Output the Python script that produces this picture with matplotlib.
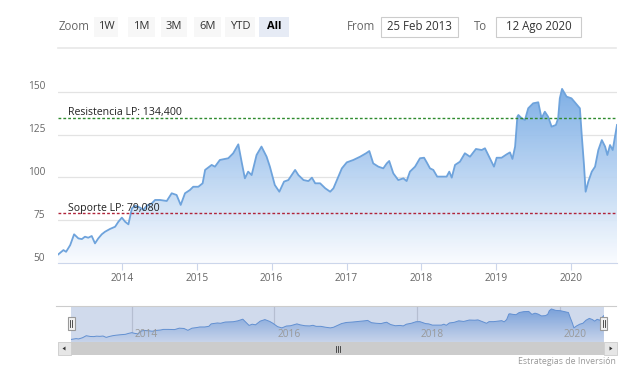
import numpy as np
import matplotlib
matplotlib.use("Agg")
import matplotlib.pyplot as plt
import matplotlib.dates as mdates
from matplotlib.patches import Rectangle, Polygon
from matplotlib.colors import LinearSegmentedColormap

W, H = 634, 372

# Price series (approximate)
dates = [
    "2013-02-25", "2013-03-22", "2013-04-04", "2013-04-24", "2013-05-13",
    "2013-06-03", "2013-06-20", "2013-07-05", "2013-07-21", "2013-08-07",
    "2013-08-23", "2013-09-08", "2013-09-25", "2013-10-11", "2013-11-04",
    "2013-11-29", "2013-12-15", "2014-01-01", "2014-01-17", "2014-02-02",
    "2014-02-19", "2014-03-07", "2014-03-31", "2014-04-16", "2014-05-03",
    "2014-05-27", "2014-06-12", "2014-07-06", "2014-08-08", "2014-09-01",
    "2014-09-25", "2014-10-15", "2014-11-05", "2014-11-29", "2014-12-15",
    "2015-01-09", "2015-01-30", "2015-02-11", "2015-03-15", "2015-03-31",
    "2015-04-24", "2015-06-04", "2015-06-28", "2015-07-23", "2015-08-08",
    "2015-08-24", "2015-09-09", "2015-09-26", "2015-10-20", "2015-11-13",
    "2015-12-08", "2015-12-24", "2016-01-17", "2016-02-08", "2016-03-02",
    "2016-03-23", "2016-04-25", "2016-05-11", "2016-06-05", "2016-06-29",
    "2016-07-16", "2016-08-01", "2016-08-25", "2016-09-19", "2016-10-13",
    "2016-10-29", "2016-11-15", "2016-12-09", "2017-01-02", "2017-02-03",
    "2017-03-08", "2017-04-06", "2017-04-22", "2017-05-11", "2017-06-05",
    "2017-06-29", "2017-07-16", "2017-07-28", "2017-08-17", "2017-09-10",
    "2017-10-05", "2017-10-21", "2017-11-06", "2017-12-01", "2017-12-25",
    "2018-01-14", "2018-01-27", "2018-02-12", "2018-02-28", "2018-03-19",
    "2018-04-10", "2018-05-04", "2018-05-17", "2018-05-29", "2018-06-14",
    "2018-07-08", "2018-08-01", "2018-08-26", "2018-09-24", "2018-10-22",
    "2018-11-07", "2018-12-01", "2018-12-21", "2019-01-03", "2019-01-27",
    "2019-02-21", "2019-03-09", "2019-03-21", "2019-04-03", "2019-04-14",
    "2019-04-19", "2019-05-05", "2019-05-21", "2019-06-06", "2019-06-30",
    "2019-07-25", "2019-08-10", "2019-08-26", "2019-09-11", "2019-09-28",
    "2019-10-19", "2019-10-30", "2019-11-07", "2019-11-18", "2019-12-10",
    "2020-01-03", "2020-01-28", "2020-02-13", "2020-02-22", "2020-03-04",
    "2020-03-12", "2020-03-25", "2020-04-11", "2020-04-27", "2020-05-13",
    "2020-05-30", "2020-06-15", "2020-06-26", "2020-07-09", "2020-07-22",
    "2020-08-12",
]
prices = [
    55.2, 57.7, 56.7, 60.6, 66.9,
    64.5, 64.1, 65.5, 64.9, 65.9,
    61.6, 64.5, 66.9, 68.4, 70.0,
    71.3, 74.2, 76.6, 74.2, 72.7,
    82.0, 83.6, 82.4, 81.1, 83.6,
    84.9, 86.9, 86.9, 86.3, 90.8,
    89.8, 84.0, 90.8, 92.7, 94.6,
    94.6, 96.6, 104.4, 107.3, 106.3,
    110.2, 111.2, 114.1, 119.3, 109.2,
    99.5, 103.4, 101.4, 113.1, 118.0,
    112.1, 106.3, 95.6, 91.7, 97.6,
    98.5, 104.4, 101.4, 98.5, 97.9,
    99.9, 96.6, 96.6, 93.7, 91.7,
    93.7, 98.5, 105.3, 108.8, 110.2,
    112.1, 114.1, 115.4, 108.2, 106.3,
    105.3, 108.2, 109.6, 102.4, 98.5,
    99.5, 97.9, 103.4, 106.3, 111.2,
    111.5, 108.8, 105.3, 104.4, 100.5,
    100.5, 100.5, 103.4, 99.9, 107.3,
    109.2, 114.1, 112.1, 116.6, 116.0,
    117.0, 111.2, 106.3, 111.5, 111.5,
    113.5, 114.6, 110.8, 118.0, 135.4,
    136.4, 134.5, 133.5, 140.3, 143.2,
    143.8, 134.5, 138.3, 135.4, 129.6,
    130.6, 134.5, 146.1, 151.6, 147.1,
    146.1, 142.6, 140.3, 124.7, 107.3,
    91.7, 97.6, 103.4, 106.3, 116.0,
    121.8, 118.0, 113.1, 118.9, 116.0,
    130.6,
]

resistance = 134.4
support = 79.08
resistance_label = "Resistencia LP: 134,400"
support_label = "Soporte LP: 79,080"
y_ticks = [50, 75, 100, 125, 150]
nav_years = [2014, 2016, 2018, 2020]
zoom_buttons = ["1W", "1M", "3M", "6M", "YTD", "All"]
date_from = "25 Feb 2013"
date_to = "12 Ago 2020"
credits = "Estrategias de Inversión"

plt.rcParams['font.family'] = ['Open Sans', 'DejaVu Sans']

fig = plt.figure(figsize=(W / 100, H / 100), dpi=100)


def px_axes(x0, y0, x1, y1):
    # box given in pixels, y measured from the top of the figure
    return fig.add_axes([x0 / W, 1 - y1 / H, (x1 - x0) / W, (y1 - y0) / H])


xs = mdates.date2num(np.array(dates, dtype="datetime64[D]"))
ys = np.array(prices)
x_start, x_end = xs[0], xs[-1]


def gradient_area(ax, lo, hi, cmap, z, alpha=1.0):
    poly, = ax.fill(np.r_[x_start, xs, x_end], np.r_[lo, ys, lo],
                    facecolor="none", edgecolor="none")
    grad = np.linspace(0, 1, 256).reshape(-1, 1)
    im = ax.imshow(grad, extent=[x_start, x_end, lo, hi], origin="lower",
                   aspect="auto", cmap=cmap, zorder=z, alpha=alpha)
    im.set_clip_path(poly)


# ---- main chart ----
ax = px_axes(58.3, 87, 617, 263.3)
y_lo, y_hi = 50, 152.7

for v in y_ticks[1:]:
    ax.axhline(v, color="#e3e3e3", lw=0.9, zorder=0)

main_cmap = LinearSegmentedColormap.from_list("m", ["#fafcff", "#74a9e4"])
gradient_area(ax, y_lo, y_hi, main_cmap, 1, alpha=0.93)
ax.plot(xs, ys, color="#6ea3dc", lw=1.3, zorder=3)

ax.axhline(resistance, color="#2e8b2e", lw=1.0, ls=(0, (2, 1.5)), zorder=4)
ax.axhline(support, color="#b0243a", lw=1.0, ls=(0, (2, 1.5)), zorder=4)
ax.annotate(resistance_label, xy=(0.0174, resistance),
            xycoords=("axes fraction", "data"), xytext=(0, 2.2),
            textcoords="offset points", fontsize=7.6, color="#222222",
            va="baseline", zorder=5)
ax.annotate(support_label, xy=(0.0174, support),
            xycoords=("axes fraction", "data"), xytext=(0, 1.6),
            textcoords="offset points", fontsize=7.6, color="#222222",
            va="baseline", zorder=5)

for v in y_ticks:
    ax.annotate(str(v), xy=(0, v), xycoords=("axes fraction", "data"),
                xytext=(-9.4, 3.6), textcoords="offset points",
                ha="right", va="center", fontsize=7.3, color="#666666")

ax.set_xlim(x_start, x_end)
ax.set_ylim(y_lo, y_hi)
ax.set_yticks([])
ax.xaxis.set_major_locator(mdates.YearLocator())
ax.xaxis.set_major_formatter(mdates.DateFormatter("%Y"))
ax.tick_params(axis="x", length=5, width=0.8, color="#ccd6eb",
               labelcolor="#666666", labelsize=7.3, pad=2)
for side in ["top", "right", "left"]:
    ax.spines[side].set_visible(False)
ax.spines["bottom"].set_color("#ccd6eb")
ax.patch.set_alpha(0)

# ---- navigator ----
nav = px_axes(71.2, 306, 603.8, 342)
n_lo, n_hi = 47, 161
for yr in nav_years:
    xv = mdates.date2num(np.datetime64("%d-01-01" % yr))
    nav.axvline(xv, color="#d8d8d8", lw=0.9, zorder=0)
    nav.annotate(str(yr), xy=(xv, 0.22), xycoords=("data", "axes fraction"),
                 xytext=(2.2, 0), textcoords="offset points", va="center",
                 fontsize=7.3, color="#999999", zorder=7)
nav_cmap = LinearSegmentedColormap.from_list("n", ["#f2f6fc", "#7aa8e3"])
gradient_area(nav, n_lo, n_hi, nav_cmap, 1)
nav.plot(xs, ys, color="#6195d8", lw=0.7, zorder=3)
nav.axvspan(x_start, x_end, color="#6685c2", alpha=0.3, lw=0, zorder=5)
nav.set_xlim(x_start, x_end)
nav.set_ylim(n_lo, n_hi)
nav.set_xticks([])
nav.set_yticks([])
for s in nav.spines.values():
    s.set_visible(False)

# ---- overlay: toolbar, scrollbar, handles, credits ----
ov = fig.add_axes([0, 0, 1, 1], zorder=10)
ov.set_xlim(0, W)
ov.set_ylim(H, 0)
ov.axis("off")
ov.patch.set_alpha(0)

ov.text(59, 26.5, "Zoom", fontsize=8.3, color="#666666", va="center")
btn_x = [(94, 118), (128, 155), (161, 187), (194, 221), (225, 255), (259, 289)]
for label, (bx0, bx1) in zip(zoom_buttons, btn_x):
    sel = label == "All"
    ov.add_patch(Rectangle((bx0, 16.5), bx1 - bx0, 20,
                           fc="#e6ebf5" if sel else "#f7f7f7", ec="none"))
    ov.text((bx0 + bx1) / 2, 26.5, label, fontsize=8, ha="center", va="center",
            color="#000000" if sel else "#333333",
            fontweight="bold" if sel else "normal")

ov.text(347, 26.5, "From", fontsize=8.3, color="#666666", va="center")
ov.add_patch(Rectangle((380.5, 16.5), 77.5, 20, fc="white", ec="#cccccc", lw=0.8))
ov.text(419, 26.5, date_from, fontsize=8.3, color="#333333", ha="center", va="center")
ov.text(474, 26.5, "To", fontsize=8.3, color="#666666", va="center")
ov.add_patch(Rectangle((496, 16.5), 85, 20, fc="white", ec="#cccccc", lw=0.8))
ov.text(538.5, 26.5, date_to, fontsize=8.3, color="#333333", ha="center", va="center")
ov.plot([58, 616], [47.7, 47.7], color="#e8e8e8", lw=1.2)

# navigator outline
ov.plot([56, 616], [306, 306], color="#cccccc", lw=0.8)

# handles
for hx in (67.5, 600.2):
    ov.add_patch(Rectangle((hx, 317), 7, 13, fc="#f2f2f2", ec="#999999", lw=0.8))
    for lx in (hx + 2.6, hx + 4.4):
        ov.plot([lx, lx], [320, 327], color="#333333", lw=0.6)

# scrollbar
ov.add_patch(Rectangle((58, 342), 559, 13, fc="#f2f2f2", ec="none"))
ov.add_patch(Rectangle((71, 342), 533, 13, fc="#cccccc", ec="none"))
ov.add_patch(Rectangle((58, 342), 13, 13, fc="#e6e6e6", ec="#cccccc", lw=0.6))
ov.add_patch(Rectangle((604, 342), 13, 13, fc="#e6e6e6", ec="#cccccc", lw=0.6))
ov.add_patch(Polygon([[62.5, 348.5], [65.5, 346.5], [65.5, 350.5]], closed=True,
                     fc="#333333", ec="none"))
ov.add_patch(Polygon([[612.5, 348.5], [609.5, 346.5], [609.5, 350.5]], closed=True,
                     fc="#333333", ec="none"))
for rx in (335.5, 337.5, 339.5):
    ov.plot([rx, rx], [345.5, 351.5], color="#333333", lw=0.6)

ov.text(616, 361.5, credits, fontsize=6.3, color="#999999", ha="right", va="center")

fig.savefig("out.png", dpi=100)
